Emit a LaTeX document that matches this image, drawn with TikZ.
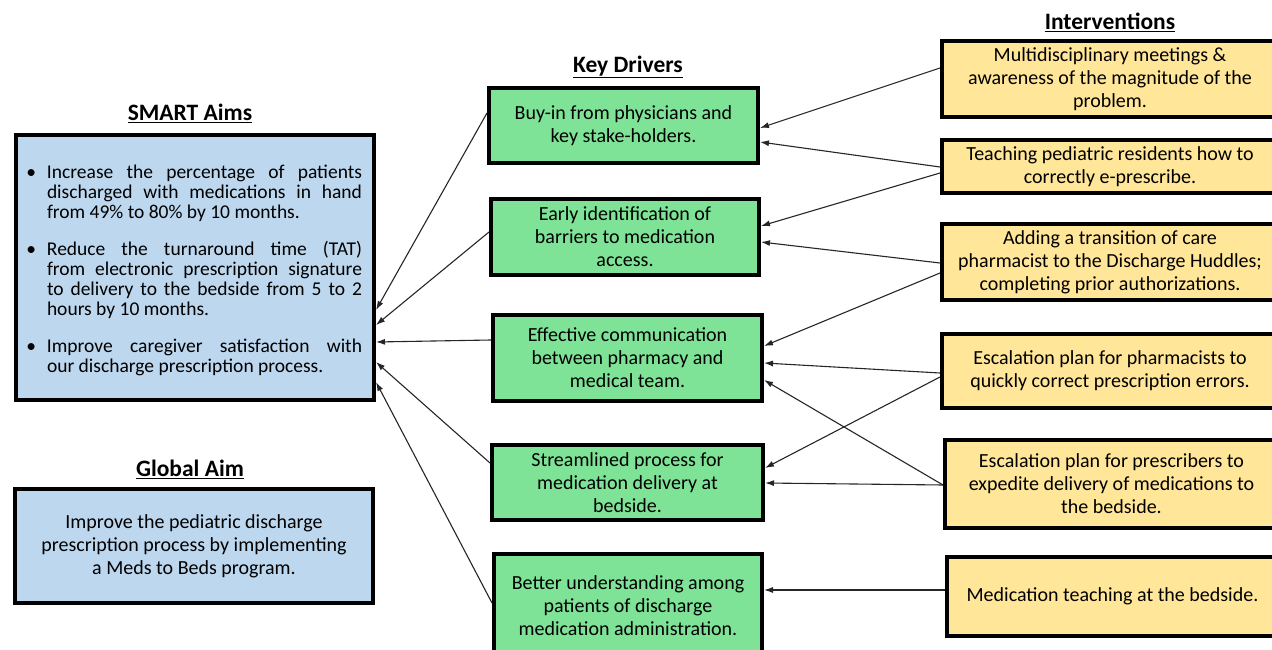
\documentclass[tikz,border=0pt]{standalone}
\usepackage{fontspec}
\setmainfont{Carlito}
\usetikzlibrary{arrows.meta,calc}
\definecolor{aimblue}{RGB}{189,215,238}
\definecolor{drivergreen}{RGB}{126,227,150}
\definecolor{intyellow}{RGB}{255,230,153}
\newcommand{\aimitem}{\par\hangindent=19pt\hangafter=0\noindent\llap{\textbullet\hspace{11pt}}}

\begin{document}
\begin{tikzpicture}[x=1pt,y=1pt,yscale=-1,
  box/.style={draw=black,line width=4pt,align=center,inner sep=0pt,font=\fontsize{20}{23}\selectfont},
  aimbox/.style={box,fill=aimblue},
  driverbox/.style={box,fill=drivergreen},
  intbox/.style={box,fill=intyellow},
  heading/.style={inner sep=0pt,font=\fontsize{23.5}{26}\selectfont\bfseries},
  link/.style={line width=1.1pt,draw=black!85,-{Latex[length=9pt,width=6pt]}}]
\useasboundingbox (0,0) rectangle (1272,650);

% Text Node
\node [heading] (smarttitle) at (190,113) {\underline{SMART Aims}};
% Text Node
\node [heading] (globaltitle) at (190,469) {\underline{Global Aim}};
% Text Node
\node [heading] (drivertitle) at (628,67) {\underline{Key Drivers}};
% Text Node
\node [heading] (inttitle) at (1110,22) {\underline{Interventions}};

%Shape: Rectangle
\node [aimbox,minimum width=358,minimum height=265,text width=334pt,align=justify,font=\fontsize{19.5}{20}\selectfont] (smart) at (195,267.5) {%
\aimitem Increase the percentage of patients\linebreak discharged with medications in hand\linebreak from 49\% to 80\% by 10 months.\par\vspace{17pt}
\aimitem Reduce the turnaround time (TAT)\linebreak from electronic prescription signature\linebreak to delivery to the bedside from 5 to 2\linebreak hours by 10 months.\par\vspace{17pt}
\aimitem Improve caregiver satisfaction with\linebreak our discharge prescription process.\par};
%Shape: Rectangle
\node [aimbox,minimum width=358,minimum height=114] (global) at (194,546) {Improve the pediatric discharge\\prescription process by implementing\\a Meds to Beds program.};

%Shape: Rectangle
\node [driverbox,minimum width=269,minimum height=75] (d1) at (623.5,125.5) {Buy-in from physicians and\\key stake-holders.};
%Shape: Rectangle
\node [driverbox,minimum width=268,minimum height=76] (d2) at (625,237) {Early identification of\\barriers to medication\\access.};
%Shape: Rectangle
\node [driverbox,minimum width=269,minimum height=86] (d3) at (627.5,358) {Effective communication\\between pharmacy and\\medical team.};
%Shape: Rectangle
\node [driverbox,minimum width=271,minimum height=75] (d4) at (627.5,482.5) {Streamlined process for\\medication delivery at\\bedside.};
%Shape: Rectangle
\node [driverbox,minimum width=268,minimum height=104] (d5) at (628,606) {Better understanding among\\patients of discharge\\medication administration.};

%Shape: Rectangle
\node [intbox,minimum width=336,minimum height=76] (i1) at (1110,79) {Multidisciplinary meetings \&\\awareness of the magnitude of the\\problem.};
%Shape: Rectangle
\node [intbox,minimum width=336,minimum height=53] (i2) at (1110,166.5) {Teaching pediatric residents how to\\correctly e-prescribe.};
%Shape: Rectangle
\node [intbox,minimum width=336,minimum height=76] (i3) at (1110,262) {Adding a transition of care\\pharmacist to the Discharge Huddles;\\completing prior authorizations.};
%Shape: Rectangle
\node [intbox,minimum width=336,minimum height=74] (i4) at (1110,371) {Escalation plan for pharmacists to\\quickly correct prescription errors.};
%Shape: Rectangle
\node [intbox,minimum width=333,minimum height=88] (i5) at (1111.5,484) {Escalation plan for prescribers to\\expedite delivery of medications to\\the bedside.};
%Shape: Rectangle
\node [intbox,minimum width=331,minimum height=79] (i6) at (1112.5,596.5) {Medication teaching at the bedside.};

%Straight Lines
\draw [link] ($(d1.west)+(0,-12.5)$) -- ($(smart.east)+(0,42.5)$);
\draw [link] ($(d2.west)+(0,-5)$) -- ($(smart.east)+(0,57.5)$);
\draw [link] ($(d3.west)+(0,-18)$) -- ($(smart.east)+(0,74.5)$);
\draw [link] ($(d4.west)+(0,-19.5)$) -- ($(smart.east)+(0,94.5)$);
\draw [link] ($(d5.west)+(0,-3)$) -- ($(smart.east)+(0,114.5)$);

%Straight Lines
\draw [link] ($(i1.west)+(0,-11)$) -- ($(d1.east)+(0,2.5)$);
\draw [link] ($(i2.west)+(0,0.5)$) -- ($(d1.east)+(0,16.5)$);
\draw [link] ($(i2.west)+(0,6.5)$) -- ($(d2.east)+(0,-11)$);
\draw [link] ($(i3.west)+(0,1)$) -- ($(d2.east)+(0,5)$);
\draw [link] ($(i3.west)+(0,11)$) -- ($(d3.east)+(0,-12)$);
\draw [link] ($(i4.west)+(0,2)$) -- ($(d3.east)+(0,5)$);
\draw [link] ($(i4.west)+(0,6)$) -- ($(d4.east)+(0,-14.5)$);
\draw [link] ($(i5.west)+(0,1)$) -- ($(d3.east)+(0,22)$);
\draw [link] ($(i5.west)+(0,1)$) -- ($(d4.east)+(0,0.5)$);
\draw [link] ($(i6.west)+(0,-6.5)$) -- ($(d5.east)+(0,-16)$);

\end{tikzpicture}
\end{document}
